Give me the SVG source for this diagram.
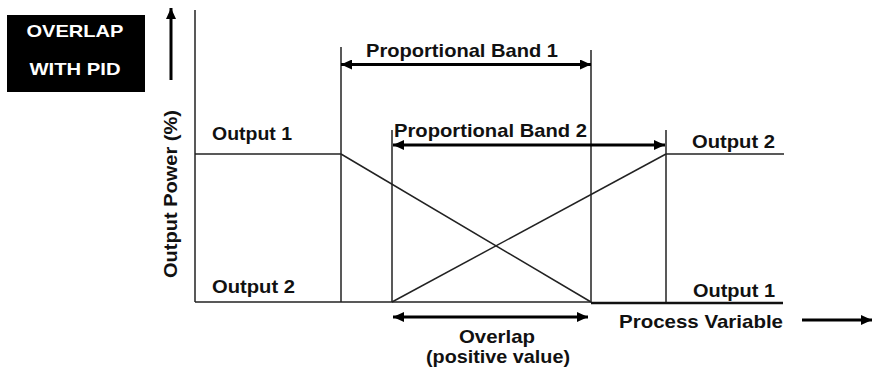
<svg xmlns="http://www.w3.org/2000/svg" width="872" height="369" viewBox="0 0 872 369">
<style>
.t{font-family:"Liberation Sans",Arial,sans-serif;font-weight:bold;font-size:19px;fill:#111}
.w{font-family:"Liberation Sans",Arial,sans-serif;font-weight:bold;font-size:17px;fill:#fff}
.ln{stroke:#222;stroke-width:1.5;fill:none}
.ar{stroke:#000;stroke-width:3;fill:none}
</style>
<defs>
<marker id="ah" markerUnits="userSpaceOnUse" markerWidth="11" markerHeight="10" refX="11" refY="5" orient="auto-start-reverse">
<path d="M0,0 L11,5 L0,10 z" fill="#000"/>
</marker>
</defs>
<g id="title">
<rect x="7" y="15" width="138" height="77" fill="#000"/>
<text class="w" x="75" y="37" text-anchor="middle" textLength="97" lengthAdjust="spacingAndGlyphs">OVERLAP</text>
<text class="w" x="75" y="75" text-anchor="middle" textLength="91" lengthAdjust="spacingAndGlyphs">WITH PID</text>
</g>
<g id="y-axis">
<line class="ar" x1="171" y1="80" x2="171" y2="8" marker-end="url(#ah)"/>
<line class="ln" x1="195" y1="10" x2="195" y2="302"/>
<text class="t" transform="translate(177,278) rotate(-90)" textLength="168" lengthAdjust="spacingAndGlyphs">Output Power (%)</text>
</g>
<g id="x-axis">
<line class="ln" x1="195" y1="302" x2="591" y2="302"/>
<line x1="591" y1="303" x2="783" y2="303" stroke="#111" stroke-width="2.5"/>
<text class="t" x="619" y="328" textLength="164" lengthAdjust="spacingAndGlyphs">Process Variable</text>
<line class="ar" x1="802" y1="320" x2="872" y2="320" marker-end="url(#ah)"/>
</g>
<g id="band-lines">
<line class="ln" x1="341" y1="47" x2="341" y2="302"/>
<line class="ln" x1="392" y1="130" x2="392" y2="302"/>
<line class="ln" x1="591" y1="50" x2="591" y2="302"/>
<line class="ln" x1="666" y1="130" x2="666" y2="302"/>
</g>
<g id="output1">
<line class="ln" x1="195" y1="154" x2="341" y2="154"/>
<line class="ln" x1="341" y1="154" x2="591" y2="302"/>
<text class="t" x="212" y="140" textLength="80" lengthAdjust="spacingAndGlyphs">Output 1</text>
<text class="t" x="693" y="297" textLength="82" lengthAdjust="spacingAndGlyphs">Output 1</text>
</g>
<g id="output2">
<line class="ln" x1="392" y1="302" x2="666" y2="154"/>
<line class="ln" x1="666" y1="154" x2="784" y2="154"/>
<text class="t" x="212" y="293" textLength="83" lengthAdjust="spacingAndGlyphs">Output 2</text>
<text class="t" x="692" y="148" textLength="83" lengthAdjust="spacingAndGlyphs">Output 2</text>
</g>
<g id="connectors">
<line class="ar" x1="341" y1="64.5" x2="591" y2="64.5" marker-start="url(#ah)" marker-end="url(#ah)"/>
<line class="ar" x1="393" y1="145" x2="665" y2="145" marker-start="url(#ah)" marker-end="url(#ah)"/>
<line class="ar" x1="393" y1="317" x2="588" y2="317" marker-start="url(#ah)" marker-end="url(#ah)"/>
</g>
<g id="labels">
<text class="t" x="366" y="57" textLength="192" lengthAdjust="spacingAndGlyphs">Proportional Band 1</text>
<text class="t" x="394" y="137" textLength="193" lengthAdjust="spacingAndGlyphs">Proportional Band 2</text>
<text class="t" x="497" y="343" text-anchor="middle" textLength="76" lengthAdjust="spacingAndGlyphs">Overlap</text>
<text class="t" x="498" y="363" text-anchor="middle" textLength="144" lengthAdjust="spacingAndGlyphs">(positive value)</text>
</g>
</svg>
